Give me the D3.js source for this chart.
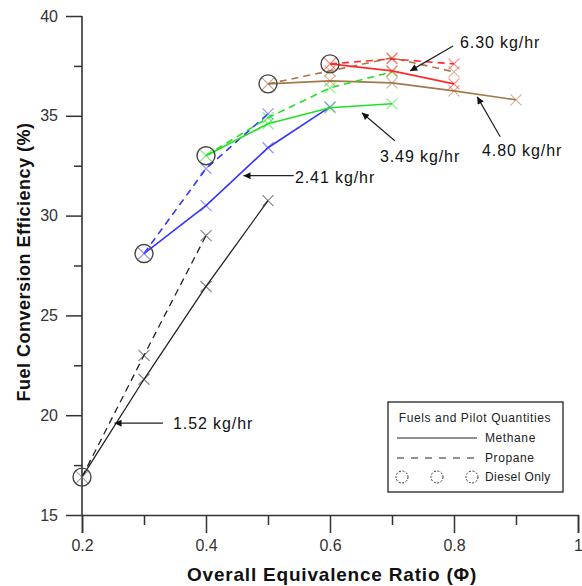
<!DOCTYPE html>
<html>
<head>
<meta charset="utf-8">
<script src="https://cdn.jsdelivr.net/npm/d3@7"></script>
<style>
  body { margin: 0; background: #fff; }
  svg { font-family: "Liberation Sans", Arial, sans-serif; }
  .tick text { fill: #333; }
</style>
</head>
<body>
<div id="wrapper"></div>
<script>
// data
const xMajorTicks = [0.2, 0.4, 0.6, 0.8, 1];
const xMinorTicks = [0.3, 0.5, 0.7, 0.9];
const yMajorTicks = [15, 20, 25, 30, 35, 40];
const yMinorTicks = [17.5, 22.5, 27.5, 32.5, 37.5];

const dieselOnly = [
  {x: 0.2, y: 16.9}, {x: 0.3, y: 28.1}, {x: 0.4, y: 33.0},
  {x: 0.5, y: 36.6}, {x: 0.6, y: 37.6},
];

const methane152 = [[0.2, 16.9], [0.3, 21.8], [0.4, 26.45], [0.5, 30.75]];
const propane152 = [[0.2, 16.9], [0.3, 23.0], [0.4, 29.0]];
const methane241 = [[0.3, 28.1], [0.4, 30.5], [0.5, 33.4], [0.6, 35.45]];
const propane241 = [[0.3, 28.1], [0.4, 32.35], [0.5, 35.1]];
const methane349 = [[0.4, 33.0], [0.5, 34.6], [0.6, 35.4], [0.7, 35.6]];
const propane349 = [[0.4, 33.0], [0.5, 34.9], [0.6, 36.4], [0.7, 37.2]];
const methane480 = [[0.5, 36.6], [0.6, 36.75], [0.7, 36.65], [0.8, 36.25], [0.9, 35.8]];
const propane480 = [[0.5, 36.6], [0.6, 37.25], [0.7, 37.9], [0.8, 37.2]];
const methane630 = [[0.6, 37.6], [0.7, 37.25], [0.8, 36.6]];
const propane630 = [[0.6, 37.6], [0.7, 37.85], [0.8, 37.6]];

const series = [
  {data: methane152, color: "#222", dashed: false},
  {data: propane152, color: "#222", dashed: true},
  {data: methane241, color: "#3535ff", dashed: false},
  {data: propane241, color: "#3535ff", dashed: true},
  {data: propane480, color: "#a5784a", dashed: true},
  {data: methane480, color: "#a5784a", dashed: false},
  {data: methane349, color: "#22e022", dashed: false},
  {data: propane349, color: "#22e022", dashed: true},
  {data: methane630, color: "#ff2a2a", dashed: false},
  {data: propane630, color: "#ff2a2a", dashed: true},
];

// arrow labels: arrow tip / tail and text start (data units)
const labels = [
  {text: "1.52 kg/hr", tip: [0.2525, 19.6], tail: [0.3305, 19.6], tx: 0.3468, ty: 19.31},
  {text: "2.41 kg/hr", tip: [0.4605, 32.0], tail: [0.5415, 32.0], tx: 0.5435, ty: 31.63},
  {text: "3.49 kg/hr", tip: [0.6515, 35.15], tail: [0.7045, 33.75], tx: 0.6806, ty: 32.69},
  {text: "4.80 kg/hr", tip: [0.8375, 35.95], tail: [0.8745, 33.95], tx: 0.8452, ty: 32.99},
  {text: "6.30 kg/hr", tip: [0.7293, 37.25], tail: [0.7985, 38.5], tx: 0.8097, ty: 38.40},
];

const width = 582;
const height = 586;
const margin = {top: 16, right: 4, bottom: 71, left: 82};
const boundedWidth = width - margin.left - margin.right;
const boundedHeight = height - margin.top - margin.bottom;

const svg = d3.select("#wrapper").append("svg")
  .attr("width", width)
  .attr("height", height);

svg.append("defs").append("marker")
  .attr("id", "arrow")
  .attr("viewBox", "0 0 10 10")
  .attr("refX", 10).attr("refY", 5)
  .attr("markerWidth", 12).attr("markerHeight", 7)
  .attr("markerUnits", "userSpaceOnUse")
  .attr("orient", "auto")
  .append("path")
  .attr("d", "M0,0 L10,5 L0,10 Z")
  .attr("fill", "#111");

const bounds = svg.append("g")
  .attr("transform", `translate(${margin.left},${margin.top})`);

const xScale = d3.scaleLinear().domain([0.2, 1]).range([0, boundedWidth]);
const yScale = d3.scaleLinear().domain([15, 40]).range([boundedHeight, 0]);

// axes
const axisColor = "#333";
const xMinor = bounds.append("g")
  .attr("transform", `translate(0,${boundedHeight})`)
  .call(d3.axisBottom(xScale).tickValues(xMinorTicks).tickSize(10).tickFormat(""));
const xAxis = bounds.append("g")
  .attr("transform", `translate(0,${boundedHeight})`)
  .call(d3.axisBottom(xScale).tickValues(xMajorTicks).tickSize(18).tickPadding(7)
    .tickFormat(d => d === 1 ? "1" : d3.format(".1f")(d)));
const yMinor = bounds.append("g")
  .call(d3.axisLeft(yScale).tickValues(yMinorTicks).tickSize(8).tickFormat(""));
const yAxis = bounds.append("g")
  .call(d3.axisLeft(yScale).tickValues(yMajorTicks).tickSize(16).tickPadding(8));

[xMinor, xAxis, yMinor, yAxis].forEach(a => {
  a.select(".domain").attr("stroke", axisColor).attr("stroke-width", 1.6);
  a.selectAll(".tick line").attr("stroke", axisColor).attr("stroke-width", 1.5);
  a.selectAll(".tick text").attr("font-size", 16).attr("fill", "#333");
});
xMinor.select(".domain").remove();
yMinor.select(".domain").remove();
yAxis.select(".domain").attr("d", `M0,${boundedHeight}V0`);

svg.append("text")
  .attr("x", 332)
  .attr("y", 581)
  .attr("text-anchor", "middle")
  .attr("font-size", 19)
  .attr("letter-spacing", 0.8)
  .attr("font-weight", "bold")
  .attr("fill", "#111")
  .text("Overall Equivalence Ratio (Φ)");

svg.append("text")
  .attr("transform", `translate(30,262) rotate(-90)`)
  .attr("text-anchor", "middle")
  .attr("font-size", 18)
  .attr("letter-spacing", 0.5)
  .attr("font-weight", "bold")
  .attr("fill", "#111")
  .text("Fuel Conversion Efficiency (%)");

// lines
const line = d3.line()
  .x(d => xScale(d[0]))
  .y(d => yScale(d[1]));

const seriesGroups = bounds.selectAll(".series")
  .data(series)
  .join("g")
    .attr("class", "series");

seriesGroups.append("path")
  .attr("d", d => line(d.data))
  .attr("fill", "none")
  .attr("stroke", d => d.color)
  .attr("stroke-width", d => d.color === "#222" ? 1.3 : 1.6)
  .attr("stroke-dasharray", d => d.dashed ? "7,5" : null);

const crossSize = 5.5;
seriesGroups.selectAll(".cross")
  .data(d => d.data.slice(1).map(p => ({p, color: d.color})))
  .join("path")
    .attr("class", "cross")
    .attr("d", d => {
      const x = xScale(d.p[0]), y = yScale(d.p[1]);
      return `M${x - crossSize},${y - crossSize}L${x + crossSize},${y + crossSize}` +
             `M${x - crossSize},${y + crossSize}L${x + crossSize},${y - crossSize}`;
    })
    .attr("stroke", d => d.color)
    .attr("stroke-opacity", 0.55)
    .attr("stroke-width", 1.2)
    .attr("fill", "none");

// diesel only points
const dieselGroup = bounds.append("g");
dieselGroup.selectAll("circle")
  .data(dieselOnly)
  .join("circle")
    .attr("cx", d => xScale(d.x))
    .attr("cy", d => yScale(d.y))
    .attr("r", 9)
    .attr("fill", "none")
    .attr("stroke", "#444")
    .attr("stroke-width", 1.4);
dieselGroup.selectAll(".dcross")
  .data(dieselOnly)
  .join("path")
    .attr("class", "dcross")
    .attr("d", d => {
      const x = xScale(d.x), y = yScale(d.y);
      return `M${x - 6},${y - 6}L${x + 6},${y + 6}M${x - 6},${y + 6}L${x + 6},${y - 6}`;
    })
    .attr("stroke", (d, i) => i === 0 ? "#777" : i === 1 ? "#5a5aff" : i === 2 ? "#44dd44" : i === 3 ? "#a5784a" : "#ff3a3a")
    .attr("stroke-opacity", 0.7)
    .attr("stroke-width", 1.1);

// arrow labels
const labelGroup = bounds.append("g");
labels.forEach(l => {
  labelGroup.append("line")
    .attr("x1", xScale(l.tail[0])).attr("y1", yScale(l.tail[1]))
    .attr("x2", xScale(l.tip[0])).attr("y2", yScale(l.tip[1]))
    .attr("stroke", "#222")
    .attr("stroke-width", 1.2)
    .attr("marker-end", "url(#arrow)");
  labelGroup.append("text")
    .attr("x", xScale(l.tx))
    .attr("y", yScale(l.ty))
    .attr("font-size", 16)
    .attr("letter-spacing", 0.9)
    .attr("fill", "#111")
    .text(l.text);
});

// legend
const legend = svg.append("g").attr("transform", "translate(388,402)");
legend.append("rect")
  .attr("width", 175).attr("height", 90)
  .attr("fill", "#fff")
  .attr("stroke", "#222")
  .attr("stroke-width", 1.3);
legend.append("text")
  .attr("x", 87).attr("y", 20)
  .attr("text-anchor", "middle")
  .attr("font-size", 12).attr("letter-spacing", 0.6).attr("fill", "#222")
  .text("Fuels and Pilot Quantities");
legend.append("line")
  .attr("x1", 9).attr("x2", 89).attr("y1", 36).attr("y2", 36)
  .attr("stroke", "#222").attr("stroke-width", 1.2);
legend.append("text")
  .attr("x", 97).attr("y", 40)
  .attr("font-size", 12).attr("letter-spacing", 0.6).attr("fill", "#222")
  .text("Methane");
legend.append("line")
  .attr("x1", 9).attr("x2", 89).attr("y1", 56).attr("y2", 56)
  .attr("stroke", "#222").attr("stroke-width", 1.2)
  .attr("stroke-dasharray", "7,7");
legend.append("text")
  .attr("x", 97).attr("y", 60)
  .attr("font-size", 12).attr("letter-spacing", 0.6).attr("fill", "#222")
  .text("Propane");
[14, 49, 84].forEach(cx => {
  legend.append("circle")
    .attr("cx", cx).attr("cy", 75).attr("r", 6)
    .attr("fill", "none")
    .attr("stroke", "#333")
    .attr("stroke-width", 1)
    .attr("stroke-dasharray", "2,1.5");
});
legend.append("text")
  .attr("x", 97).attr("y", 79)
  .attr("font-size", 12).attr("letter-spacing", 0.4).attr("fill", "#222")
  .text("Diesel Only");
</script>
</body>
</html>
